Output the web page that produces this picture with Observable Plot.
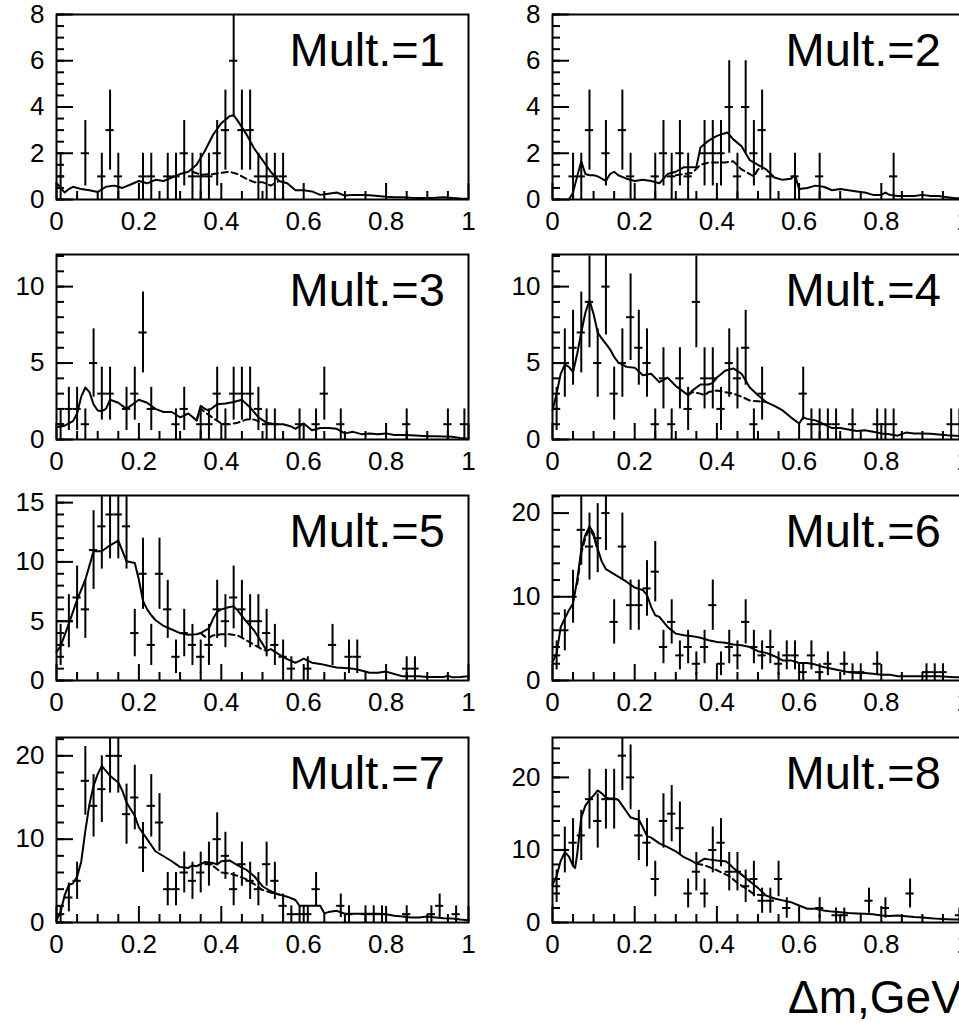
<!DOCTYPE html>
<html><head><meta charset="utf-8">
<script src="https://cdn.jsdelivr.net/npm/d3@7"></script>
<script src="https://cdn.jsdelivr.net/npm/@observablehq/plot@0.6"></script>
<style>
html,body{margin:0;padding:0;background:#fff;}
#chart{position:relative;width:959px;height:1023px;overflow:hidden;background:#fff;font-family:"Liberation Sans",Arial,Helvetica,sans-serif;}
#chart svg{position:absolute;}
#xtitle{position:absolute;left:788px;top:974px;font-size:46px;line-height:1;white-space:nowrap;color:#000;}
</style>
</head><body>
<div id="chart"><div id="xtitle">Δm,GeV</div></div>
<script>
// ---- shared axis definitions ----
const binWidth = 0.02;
const xTicks = [0, 0.2, 0.4, 0.6, 0.8, 1];
const xMinorTicks = [0.05, 0.1, 0.15, 0.25, 0.3, 0.35, 0.45, 0.5, 0.55, 0.65, 0.7, 0.75, 0.85, 0.9, 0.95];
const labels = ["Mult.=1", "Mult.=2", "Mult.=3", "Mult.=4", "Mult.=5", "Mult.=6", "Mult.=7", "Mult.=8"];
const yMax = [8, 8, 12.1, 12.1, 15.6, 22.1, 22.2, 25.5];
const yTicks = [[0,2,4,6,8],[0,2,4,6,8],[0,5,10],[0,5,10],[0,5,10,15],[0,10,20],[0,10,20],[0,10,20]];
const yMinorStep = [0.5, 0.5, 1, 1, 1, 2, 2, 2];

// ---- histogram counts (50 bins of 0.02) ----
const counts1 = [1,0,0,2,0,1,3,1,0,0, 1,1,0,1,1,2,1,1,1,2, 3,6,3,3,1,1,1,1,0,0, 0,0,0,0,0,0,0,0,0,0, 0,0,0,0,0,0,0,0,0,0];
const counts2 = [0,0,1,1,3,0,2,0,3,1, 0,0,1,2,1,2,1,0,2,2, 2,4,1,4,2,3,1,0,0,1, 0,0,1,0,0,0,0,0,0,0, 0,1,0,0,0,0,0,0,0,0];
const counts3 = [1,2,2,1,5,3,3,0,2,3, 7,2,0,0,1,2,0,1,1,3, 1,3,3,3,2,1,1,0,0,1, 0,1,3,0,1,0,0,0,0,0, 0,0,1,0,0,0,0,1,0,1];
const counts4 = [2,5,6,7,9,5,10,3,5,8, 6,5,1,4,1,4,2,9,4,4, 2,5,4,6,1,3,0,0,0,0, 3,1,1,1,1,0,1,0,0,1, 1,1,0,0,0,0,0,0,1,1];
const counts5 = [3,5,7,6,11,13,14,14,13,4, 9,3,9,6,2,4,3,2,3,6, 5,7,6,5,5,4,3,2,1,0, 1,0,0,3,0,2,2,0,0,0, 0,0,1,1,0,0,0,0,0,0];
const counts6 = [3,6,10,18,16,17,20,7,16,9, 9,11,13,4,7,3,4,2,4,9, 2,4,3,7,4,3,4,2,3,3, 1,3,1,2,0,2,1,1,0,2, 0,0,0,0,0,1,1,1,0,0];
const counts7 = [1,3,5,17,14,16,20,20,13,15, 9,14,12,4,4,6,5,6,7,10, 8,4,7,5,4,7,5,2,1,1, 1,4,0,0,2,1,0,1,1,1, 0,0,1,0,0,1,2,0,1,0];
const counts8 = [5,10,11,12,17,14,17,17,23,20, 12,11,6,14,15,13,4,7,4,10, 11,7,7,5,6,3,3,6,2,0, 0,0,2,0,1,1,0,0,3,0, 2,0,0,4,0,0,0,0,0,1];

// ---- solid curves [x, y] ----
const fit1 = [[0,0.72],[0.01,0.5],[0.02,0.3],[0.03,0.45],[0.04,0.55],[0.06,0.45],[0.08,0.4],[0.1,0.32],[0.12,0.55],[0.14,0.6],[0.16,0.5],[0.18,0.65],[0.2,0.8],[0.22,0.7],[0.24,0.85],[0.26,0.8],[0.28,0.95],[0.3,1.1],[0.32,1.2],[0.34,1.5],[0.36,2.1],[0.38,2.8],[0.4,3.3],[0.42,3.6],[0.43,3.65],[0.44,3.4],[0.46,2.85],[0.48,2.2],[0.5,1.7],[0.52,1.2],[0.54,0.8],[0.56,0.7],[0.58,0.4],[0.6,0.4],[0.62,0.35],[0.64,0.2],[0.66,0.25],[0.68,0.3],[0.7,0.17],[0.72,0.2],[0.74,0.2],[0.76,0.18],[0.78,0.15],[0.8,0.12],[0.82,0.1],[0.84,0.1],[0.86,0.08],[0.88,0.07],[0.9,0.07],[0.92,0.08],[0.94,0.1],[0.96,0.07],[0.98,0.04],[1,0.03]];
const fit2 = [[0.04,0],[0.045,0.15],[0.05,0.3],[0.06,1.0],[0.07,1.65],[0.08,1.1],[0.09,1.05],[0.1,1.05],[0.11,1.0],[0.12,0.9],[0.13,0.8],[0.14,1.1],[0.15,1.2],[0.16,1.05],[0.18,0.9],[0.2,0.8],[0.22,0.85],[0.24,0.8],[0.26,0.7],[0.28,1.1],[0.3,1.2],[0.32,1.4],[0.34,1.4],[0.35,1.4],[0.36,2.25],[0.38,2.55],[0.4,2.75],[0.425,2.9],[0.44,2.6],[0.46,2.3],[0.48,1.7],[0.5,1.5],[0.52,1.3],[0.54,0.95],[0.56,0.85],[0.58,0.9],[0.59,1.05],[0.6,0.45],[0.62,0.5],[0.64,0.6],[0.66,0.55],[0.68,0.4],[0.7,0.45],[0.72,0.4],[0.74,0.35],[0.76,0.3],[0.78,0.2],[0.8,0.2],[0.81,0.3],[0.82,0.2],[0.84,0.15],[0.86,0.15],[0.88,0.15],[0.9,0.2],[0.92,0.15],[0.94,0.15],[0.96,0.1],[0.98,0.05],[1,0.05]];
const fit3 = [[0,0.8],[0.02,0.9],[0.04,1.2],[0.05,1.7],[0.06,2.8],[0.07,3.4],[0.08,3.1],[0.09,2.3],[0.1,1.9],[0.11,1.85],[0.12,2.0],[0.13,2.6],[0.14,2.5],[0.15,2.4],[0.17,2.0],[0.19,2.4],[0.2,2.6],[0.22,2.4],[0.24,2.0],[0.26,1.8],[0.28,1.8],[0.3,1.45],[0.32,1.7],[0.34,1.25],[0.35,2.2],[0.36,2.0],[0.37,1.9],[0.39,2.3],[0.41,2.35],[0.43,2.45],[0.45,2.6],[0.47,2.1],[0.49,1.45],[0.51,1.1],[0.53,1.0],[0.55,1.0],[0.57,0.85],[0.58,0.7],[0.6,1.05],[0.62,0.6],[0.64,0.75],[0.66,0.75],[0.68,0.7],[0.7,0.4],[0.72,0.5],[0.74,0.35],[0.76,0.4],[0.78,0.35],[0.8,0.4],[0.82,0.3],[0.84,0.3],[0.86,0.28],[0.88,0.25],[0.9,0.22],[0.92,0.22],[0.94,0.2],[0.96,0.18],[0.98,0.1],[1,0.05]];
const fit4 = [[0,1.9],[0.01,3.0],[0.02,4.3],[0.03,4.9],[0.04,4.75],[0.05,4.4],[0.06,5.6],[0.07,7.0],[0.08,8.3],[0.09,9.1],[0.1,8.2],[0.11,7.0],[0.12,6.6],[0.13,6.25],[0.14,5.9],[0.15,5.4],[0.16,5.05],[0.18,4.75],[0.2,4.7],[0.22,4.2],[0.24,4.3],[0.26,3.75],[0.28,4.05],[0.3,3.5],[0.32,3.1],[0.33,2.9],[0.34,3.2],[0.36,3.6],[0.38,3.6],[0.39,3.7],[0.4,4.05],[0.42,4.5],[0.44,4.65],[0.46,4.3],[0.48,3.4],[0.5,2.9],[0.52,2.45],[0.54,2.2],[0.56,1.9],[0.58,1.45],[0.6,1.05],[0.61,1.45],[0.62,1.35],[0.64,1.25],[0.66,1.0],[0.68,0.75],[0.7,0.75],[0.72,0.65],[0.74,0.55],[0.76,0.6],[0.78,0.5],[0.8,0.4],[0.82,0.35],[0.84,0.25],[0.86,0.45],[0.88,0.4],[0.9,0.4],[0.92,0.37],[0.94,0.33],[0.96,0.28],[0.98,0.25],[1,0.2]];
const fit5 = [[0,2.4],[0.01,2.9],[0.03,4.8],[0.05,6.8],[0.07,8.5],[0.09,10.9],[0.11,10.9],[0.13,11.4],[0.15,11.8],[0.17,10.05],[0.19,9.9],[0.2,8.5],[0.21,6.7],[0.22,6.0],[0.23,5.5],[0.24,5.1],[0.26,4.6],[0.28,4.3],[0.3,4.0],[0.32,3.85],[0.34,3.9],[0.35,4.0],[0.36,4.2],[0.37,4.4],[0.38,5.2],[0.39,5.8],[0.4,6.0],[0.42,6.2],[0.43,6.25],[0.44,5.9],[0.46,5.0],[0.48,4.2],[0.5,3.1],[0.51,2.5],[0.52,2.65],[0.54,2.2],[0.56,1.8],[0.58,1.5],[0.59,1.65],[0.6,1.85],[0.62,1.5],[0.64,1.4],[0.66,1.25],[0.68,1.1],[0.7,1.05],[0.72,1.0],[0.74,0.85],[0.76,0.65],[0.78,0.65],[0.8,0.75],[0.82,0.55],[0.84,0.35],[0.86,0.35],[0.88,0.35],[0.9,0.3],[0.92,0.3],[0.94,0.3],[0.95,0.4],[0.96,0.28],[0.98,0.3],[1,0.35]];
const fit6 = [[0,2.2],[0.01,3.2],[0.02,6.4],[0.03,7.4],[0.04,8.4],[0.05,9.2],[0.06,12],[0.07,15.6],[0.08,17.4],[0.09,18.4],[0.1,17.6],[0.11,15.7],[0.12,14.2],[0.13,13.3],[0.14,13.0],[0.15,12.7],[0.16,12.4],[0.18,11.8],[0.2,11.1],[0.22,10.8],[0.23,10.2],[0.24,8.8],[0.25,7.8],[0.26,7.6],[0.28,6.4],[0.3,5.6],[0.32,5.4],[0.34,5.3],[0.36,5.1],[0.38,4.8],[0.4,4.6],[0.42,4.5],[0.44,4.3],[0.46,4.2],[0.48,4.0],[0.5,3.5],[0.52,3.3],[0.54,2.9],[0.56,2.4],[0.58,2.4],[0.6,2.1],[0.62,2.1],[0.64,1.9],[0.66,1.6],[0.68,1.4],[0.7,1.2],[0.72,1.0],[0.74,0.9],[0.76,0.9],[0.78,0.8],[0.8,0.7],[0.82,0.7],[0.84,0.5],[0.86,0.5],[0.88,0.5],[0.9,0.5],[0.92,0.5],[0.94,0.5],[0.96,0.45],[0.98,0.4],[1,0.35]];
const fit7 = [[0,0.3],[0.01,1.3],[0.02,3.3],[0.03,4.5],[0.04,4.7],[0.05,5.5],[0.06,7.3],[0.07,11],[0.08,14.2],[0.09,16.4],[0.1,17.8],[0.11,18.8],[0.12,18.2],[0.13,17.6],[0.14,17.2],[0.15,16.8],[0.16,15.8],[0.17,14.4],[0.18,13.6],[0.19,12.8],[0.2,11.4],[0.22,10],[0.24,8.55],[0.26,7.95],[0.28,7.35],[0.3,6.65],[0.32,6.55],[0.33,6.85],[0.34,6.75],[0.36,7.25],[0.38,7.15],[0.39,6.95],[0.4,7.35],[0.42,7.45],[0.44,6.85],[0.46,6.35],[0.48,5.55],[0.5,4.35],[0.52,3.75],[0.54,3.35],[0.56,3.1],[0.58,2.7],[0.59,2.0],[0.6,2.0],[0.62,2.0],[0.64,2.0],[0.65,1.1],[0.66,1.25],[0.68,1.4],[0.7,1.05],[0.72,1.05],[0.74,1.05],[0.76,1.05],[0.78,1.05],[0.8,1.0],[0.82,0.8],[0.84,0.72],[0.86,0.6],[0.88,0.6],[0.9,0.72],[0.92,0.6],[0.94,0.5],[0.96,0.48],[0.98,0.36],[1,0.28]];
const fit8 = [[0,5.2],[0.01,6.4],[0.02,8.5],[0.03,9.7],[0.04,9.1],[0.05,7.8],[0.055,7.5],[0.06,9.4],[0.07,14.5],[0.08,16.1],[0.09,16.9],[0.1,17.5],[0.11,18.2],[0.12,17.8],[0.13,17.2],[0.14,17.1],[0.15,17.1],[0.16,16.9],[0.17,16.1],[0.18,15.3],[0.19,14.5],[0.2,14.3],[0.21,14.2],[0.22,13.1],[0.23,11.9],[0.24,11.7],[0.26,10.9],[0.28,10.4],[0.3,9.8],[0.32,9.0],[0.34,8.45],[0.35,8.1],[0.36,8.45],[0.37,8.8],[0.38,8.7],[0.4,8.55],[0.42,8.45],[0.43,8.1],[0.44,7.5],[0.46,6.6],[0.48,5.7],[0.5,4.75],[0.52,3.7],[0.54,3.3],[0.56,3.05],[0.58,2.8],[0.6,2.35],[0.62,1.9],[0.64,1.9],[0.66,1.65],[0.68,1.5],[0.7,1.4],[0.72,1.3],[0.74,1.25],[0.76,1.2],[0.78,1.15],[0.8,0.95],[0.82,0.9],[0.84,0.95],[0.86,0.85],[0.88,0.75],[0.9,0.7],[0.92,0.6],[0.94,0.5],[0.96,0.45],[0.98,0.42],[1,0.4]];

// ---- dashed curves [x, y] (only where they separate from the solid one) ----
const dash1 = [[0.33,1.2],[0.35,1.07],[0.38,1.1],[0.4,1.15],[0.42,1.2],[0.44,1.1],[0.46,0.9],[0.48,0.75],[0.5,0.75],[0.52,0.6],[0.54,0.8]];
const dash2 = [[0.3,1.05],[0.32,1.1],[0.34,1.15],[0.36,1.5],[0.38,1.6],[0.4,1.6],[0.42,1.6],[0.44,1.65],[0.46,1.3],[0.48,1.1],[0.49,1.0],[0.5,1.3],[0.51,1.45]];
const dash3 = [[0.34,1.25],[0.35,2.0],[0.36,1.8],[0.38,1.4],[0.4,1.05],[0.42,1.0],[0.44,1.1],[0.46,1.3],[0.48,1.3],[0.5,1.1]];
const dash4 = [[0.33,2.9],[0.34,3.1],[0.36,3.0],[0.37,2.9],[0.38,3.1],[0.4,3.2],[0.42,3.1],[0.44,3.0],[0.46,2.8],[0.48,2.55],[0.5,2.5],[0.52,2.45]];
const dash5 = [[0.35,4.0],[0.36,3.7],[0.37,3.6],[0.38,3.8],[0.4,3.9],[0.42,3.9],[0.44,3.8],[0.46,3.4],[0.48,3.0],[0.5,2.6],[0.51,2.5]];
const dash6 = [[0.06,11.5],[0.07,15.2],[0.08,17.1],[0.09,18.1],[0.1,17.3],[0.11,15.5]];
const dash7 = [[0.36,7.25],[0.38,6.8],[0.4,6.0],[0.42,5.9],[0.44,5.6],[0.46,5.2],[0.48,4.6],[0.5,3.9],[0.52,3.6],[0.54,3.35]];
const dash8 = [[0.35,8.1],[0.37,7.9],[0.4,7.2],[0.43,6.4],[0.45,5.45],[0.47,4.75],[0.49,3.9],[0.52,3.7]];

const allCounts = [counts1, counts2, counts3, counts4, counts5, counts6, counts7, counts8];
const allFits = [fit1, fit2, fit3, fit4, fit5, fit6, fit7, fit8];
const allDash = [dash1, dash2, dash3, dash4, dash5, dash6, dash7, dash8];

const FRAME_H = 185;
const FONT = "'Liberation Sans', Arial, Helvetica, sans-serif";
const chart = document.getElementById("chart");
const rowTop = [0, 240, 481, 723];

allCounts.forEach((counts, k) => {
  const col = k % 2, row = Math.floor(k / 2);
  const innerW = col === 0 ? 412 : 411;
  const ml = col === 0 ? 56 : 72;
  const mr = 12;
  const ymax = yMax[k];
  const pts = counts
    .map((n, i) => ({x: binWidth * (i + 0.5), n}))
    .filter(d => d.n > 0)
    .map(d => ({
      x: d.x, n: d.n,
      lo: d.n - Math.sqrt(d.n),
      hi: Math.min(d.n + Math.sqrt(d.n), ymax),
      x1: d.x - binWidth / 2, x2: d.x + binWidth / 2
    }));
  const yMinor = d3.range(0, ymax + 1e-9, yMinorStep[k]);
  const svg = Plot.plot({
    width: ml + innerW + mr,
    height: 14 + FRAME_H + 42,
    marginTop: 14, marginBottom: 42, marginLeft: ml, marginRight: mr,
    x: {domain: [0, 1]},
    y: {domain: [0, ymax]},
    style: {fontFamily: FONT, fontSize: "26px", color: "black", background: "transparent", overflow: "visible"},
    marks: [
      Plot.ruleX(xMinorTicks, {insetTop: FRAME_H - 8, strokeWidth: 2}),
      Plot.ruleX(xTicks, {insetTop: FRAME_H - 16, strokeWidth: 2}),
      Plot.ruleY(yMinor, {insetRight: innerW - 8, strokeWidth: 2}),
      Plot.ruleY(yTicks[k], {insetRight: innerW - 17, strokeWidth: 2}),
      Plot.axisX(xTicks, {tickSize: 0, tickPadding: 12, tickFormat: d => String(d), label: null}),
      Plot.axisY(yTicks[k], {tickSize: 0, tickPadding: 12, tickFormat: d => String(d), label: null}),
      Plot.ruleX(pts, {x: "x", y1: "lo", y2: "hi", strokeWidth: 2, clip: true}),
      Plot.ruleY(pts, {y: "n", x1: "x1", x2: "x2", strokeWidth: 2}),
      Plot.line(allDash[k], {x: d => d[0], y: d => d[1], strokeWidth: 2, strokeDasharray: "6,4"}),
      Plot.line(allFits[k], {x: d => d[0], y: d => d[1], strokeWidth: 2}),
      Plot.frame({strokeWidth: 2}),
      Plot.text([labels[k]], {frameAnchor: "top-left", textAnchor: "start", lineAnchor: "top", dx: 233, dy: 18, fontSize: 47})
    ]
  });
  svg.style.left = (col === 0 ? 0 : 480) + "px";
  svg.style.top = rowTop[row] + "px";
  chart.appendChild(svg);
});
</script>
</body></html>
